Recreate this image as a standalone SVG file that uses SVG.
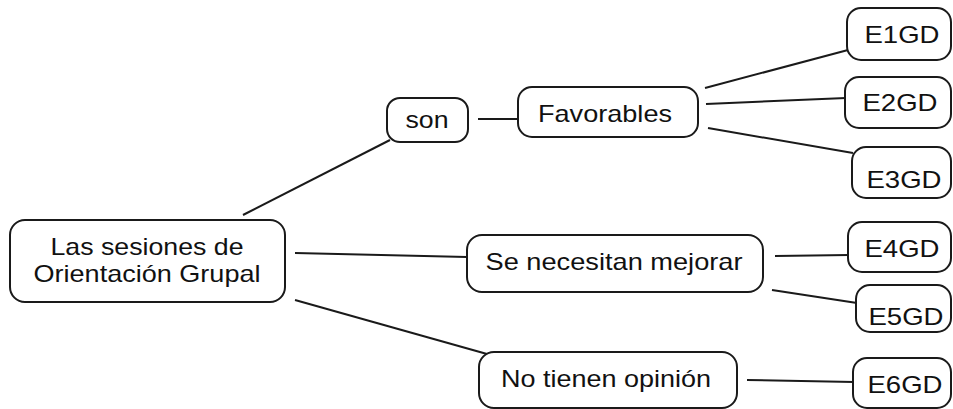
<svg xmlns="http://www.w3.org/2000/svg" width="953" height="409" viewBox="0 0 953 409">
<style>
.box{fill:#fff;stroke:#1a1a1a;stroke-width:2}
.t{font-family:"Liberation Sans",Arial,sans-serif;font-size:24px;fill:#111;text-anchor:middle}
.c{stroke:#1a1a1a;stroke-width:2;fill:none}
</style>
<rect width="953" height="409" fill="#fff"/>
<g id="connectors">
<line class="c" x1="243" y1="215" x2="390" y2="140"/>
<line class="c" x1="478" y1="119" x2="518" y2="119"/>
<line class="c" x1="705" y1="88" x2="848" y2="50"/>
<line class="c" x1="706" y1="104" x2="846" y2="98"/>
<line class="c" x1="708" y1="128" x2="853" y2="153"/>
<line class="c" x1="295" y1="253" x2="467" y2="257"/>
<line class="c" x1="295" y1="300" x2="487" y2="354"/>
<line class="c" x1="775" y1="256" x2="849" y2="255"/>
<line class="c" x1="772" y1="290" x2="857" y2="303"/>
<line class="c" x1="747" y1="380" x2="854" y2="382"/>
</g>
<g id="main">
<rect class="box" x="10" y="220" width="275" height="82" rx="15"/>
<text class="t" x="147" y="255" textLength="193" lengthAdjust="spacingAndGlyphs">Las sesiones de</text>
<text class="t" x="147" y="282" textLength="227" lengthAdjust="spacingAndGlyphs">Orientación Grupal</text>
</g>
<g id="son">
<rect class="box" x="387" y="98" width="81" height="44" rx="13"/>
<text class="t" x="427" y="128" textLength="43" lengthAdjust="spacingAndGlyphs">son</text>
</g>
<g id="favorables">
<rect class="box" x="518" y="87" width="180" height="50" rx="14"/>
<text class="t" x="605" y="122" textLength="134" lengthAdjust="spacingAndGlyphs">Favorables</text>
</g>
<g id="necesitan">
<rect class="box" x="467" y="235" width="296" height="57" rx="15"/>
<text class="t" x="614" y="270" textLength="257" lengthAdjust="spacingAndGlyphs">Se necesitan mejorar</text>
</g>
<g id="noopinion">
<rect class="box" x="479" y="352" width="258" height="56" rx="15"/>
<text class="t" x="606" y="387" textLength="210" lengthAdjust="spacingAndGlyphs">No tienen opinión</text>
</g>
<g id="e1"><rect class="box" x="847" y="8" width="104" height="52" rx="14"/><text class="t" x="902" y="43" textLength="75" lengthAdjust="spacingAndGlyphs">E1GD</text></g>
<g id="e2"><rect class="box" x="845" y="77" width="106" height="51" rx="14"/><text class="t" x="900" y="111" textLength="75" lengthAdjust="spacingAndGlyphs">E2GD</text></g>
<g id="e3"><rect class="box" x="852" y="147" width="99" height="51" rx="14"/><text class="t" x="904" y="188" textLength="75" lengthAdjust="spacingAndGlyphs">E3GD</text></g>
<g id="e4"><rect class="box" x="848" y="222" width="103" height="50" rx="14"/><text class="t" x="902" y="257" textLength="75" lengthAdjust="spacingAndGlyphs">E4GD</text></g>
<g id="e5"><rect class="box" x="856" y="285" width="95" height="47" rx="14"/><text class="t" x="906" y="325" textLength="75" lengthAdjust="spacingAndGlyphs">E5GD</text></g>
<g id="e6"><rect class="box" x="853" y="358" width="98" height="50" rx="14"/><text class="t" x="905" y="393" textLength="75" lengthAdjust="spacingAndGlyphs">E6GD</text></g>
</svg>
